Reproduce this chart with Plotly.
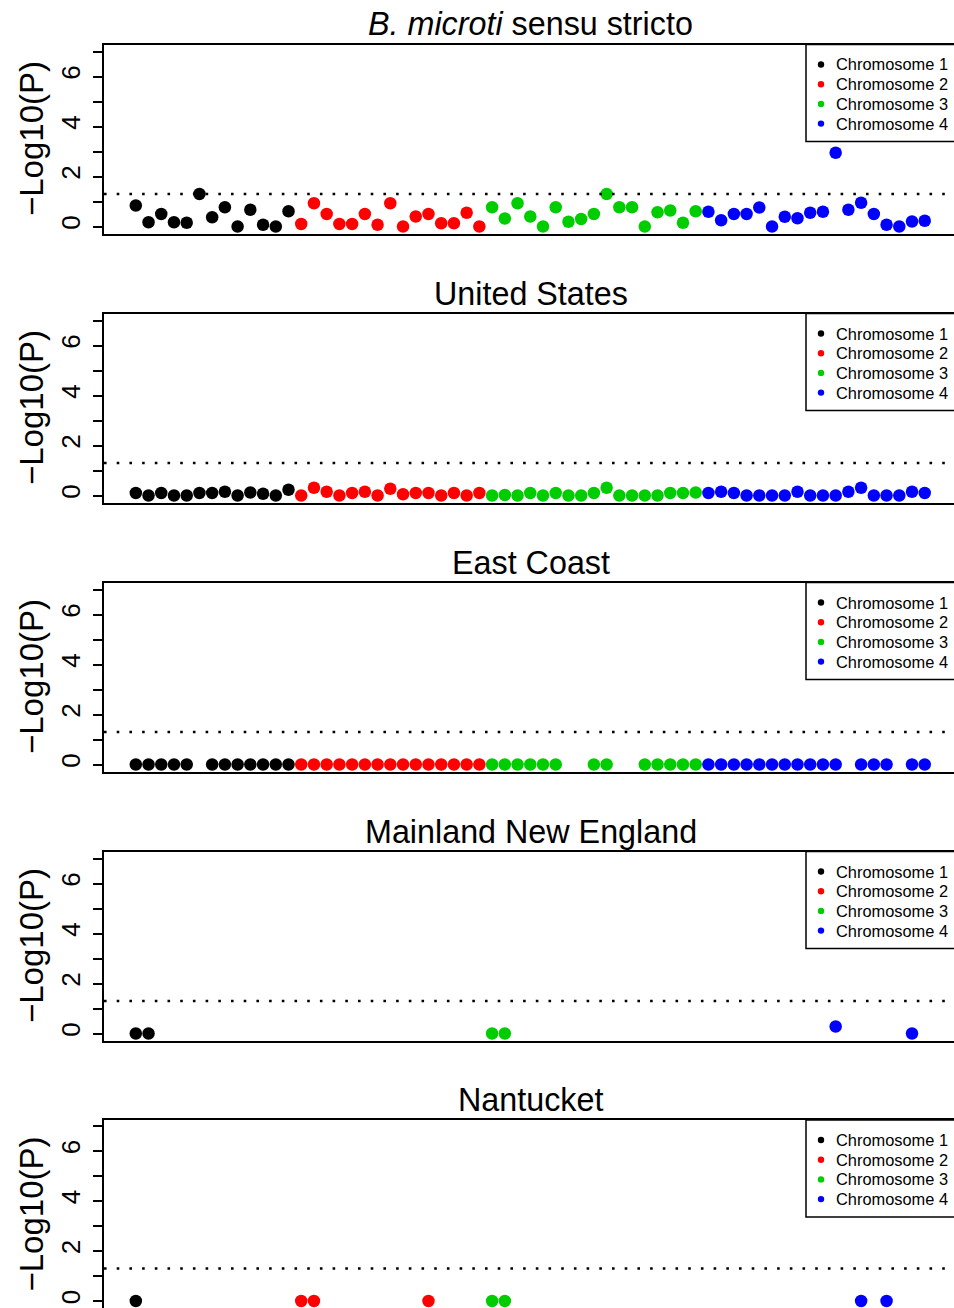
import plotly.graph_objects as go

FONT = "Liberation Sans, Arial, Helvetica, sans-serif"

chrom_names = ["Chromosome 1", "Chromosome 2", "Chromosome 3", "Chromosome 4"]
chrom_colors = ["#000000", "#FF0000", "#00CD00", "#0000FF"]
panel_titles = ["<i>B. microti</i> sensu stricto", "United States", "East Coast",
                "Mainland New England", "Nantucket"]
y_title = "\u2212Log10(P)"
y_tickvals = [0, 1, 2, 3, 4, 5, 6, 7]
y_ticktext = ["0", "", "2", "", "4", "", "6", ""]
threshold = 1.301  # -log10(0.05)

# SNP positions (index along genome) by chromosome
chr1_pos = [1, 2, 3, 4, 5, 6, 7, 8, 9, 10, 11, 12, 13]
chr2_pos = [14, 15, 16, 17, 18, 19, 20, 21, 22, 23, 24, 25, 26, 27, 28]
chr3_pos = [29, 30, 31, 32, 33, 34, 35, 36, 37, 38, 39, 40, 41, 42, 43, 44, 45]
chr4_pos = [46, 47, 48, 49, 50, 51, 52, 53, 54, 55, 56, 57, 58, 59, 60, 61, 62, 63]

# Panel 1: B. microti sensu stricto
bmss_chr1 = [0.84, 0.17, 0.50, 0.17, 0.15, 1.30, 0.37, 0.77, 0.00, 0.67, 0.07, 0.00, 0.61]
bmss_chr2 = [0.10, 0.93, 0.50, 0.10, 0.10, 0.50, 0.07, 0.93, 0.00, 0.40, 0.50, 0.13, 0.13, 0.55, 0.00]
bmss_chr3 = [0.77, 0.32, 0.93, 0.40, 0.00, 0.77, 0.19, 0.30, 0.50, 1.30, 0.77, 0.77, 0.00, 0.57,
             0.64, 0.15, 0.61]
bmss_chr4 = [0.59, 0.25, 0.50, 0.50, 0.76, 0.00, 0.39, 0.33, 0.55, 0.59, 2.95, 0.67, 0.95, 0.50,
             0.07, 0.00, 0.20, 0.23]

# Panel 2: United States
us_chr1 = [0.10, 0.00, 0.10, 0.00, 0.00, 0.10, 0.10, 0.15, 0.00, 0.12, 0.07, 0.00, 0.23]
us_chr2 = [0.00, 0.31, 0.15, 0.00, 0.10, 0.15, 0.00, 0.27, 0.05, 0.10, 0.10, 0.00, 0.10, 0.00, 0.10]
us_chr3 = [0.00, 0.02, 0.00, 0.10, 0.00, 0.10, 0.00, 0.00, 0.10, 0.31, 0.00, 0.00, 0.00, 0.00,
           0.10, 0.10, 0.12]
us_chr4 = [0.10, 0.15, 0.10, 0.00, 0.00, 0.00, 0.00, 0.15, 0.00, 0.00, 0.00, 0.15, 0.31, 0.00,
           0.00, 0.00, 0.15, 0.10]

# Panel 3: East Coast
ec_chr1_pos = [1, 2, 3, 4, 5, 7, 8, 9, 10, 11, 12, 13]
ec_chr1 = [0, 0, 0, 0, 0, 0, 0, 0, 0, 0, 0, 0]
ec_chr2_pos = [14, 15, 16, 17, 18, 19, 20, 21, 22, 23, 24, 25, 26, 27, 28]
ec_chr2 = [0, 0, 0, 0, 0, 0, 0, 0, 0, 0, 0, 0, 0, 0, 0]
ec_chr3_pos = [29, 30, 31, 32, 33, 34, 37, 38, 41, 42, 43, 44, 45]
ec_chr3 = [0, 0, 0, 0, 0, 0, 0, 0, 0, 0, 0, 0, 0]
ec_chr4_pos = [46, 47, 48, 49, 50, 51, 52, 53, 54, 55, 56, 58, 59, 60, 62, 63]
ec_chr4 = [0, 0, 0, 0, 0, 0, 0, 0, 0, 0, 0, 0, 0, 0, 0, 0]

# Panel 4: Mainland New England
mne_chr1_pos = [1, 2]
mne_chr1 = [0, 0]
mne_chr2_pos = []
mne_chr2 = []
mne_chr3_pos = [29, 30]
mne_chr3 = [0, 0]
mne_chr4_pos = [56, 62]
mne_chr4 = [0.28, 0]

# Panel 5: Nantucket
nan_chr1_pos = [1]
nan_chr1 = [0]
nan_chr2_pos = [14, 15, 24]
nan_chr2 = [0, 0, 0]
nan_chr3_pos = [29, 30]
nan_chr3 = [0, 0]
nan_chr4_pos = [58, 60]
nan_chr4 = [0, 0]

panels = [
    [(chr1_pos, bmss_chr1), (chr2_pos, bmss_chr2), (chr3_pos, bmss_chr3), (chr4_pos, bmss_chr4)],
    [(chr1_pos, us_chr1), (chr2_pos, us_chr2), (chr3_pos, us_chr3), (chr4_pos, us_chr4)],
    [(ec_chr1_pos, ec_chr1), (ec_chr2_pos, ec_chr2), (ec_chr3_pos, ec_chr3), (ec_chr4_pos, ec_chr4)],
    [(mne_chr1_pos, mne_chr1), (mne_chr2_pos, mne_chr2), (mne_chr3_pos, mne_chr3),
     (mne_chr4_pos, mne_chr4)],
    [(nan_chr1_pos, nan_chr1), (nan_chr2_pos, nan_chr2), (nan_chr3_pos, nan_chr3),
     (nan_chr4_pos, nan_chr4)],
]

# ---- layout geometry (pixels) ----
W, H = 954, 1308
PLOT_L, PLOT_R = 104, 954
panel_tops = [44.5, 313.5, 582.5, 851.5, 1120]
panel_h = 189


def px_x(px):
    return (px - PLOT_L) / (PLOT_R - PLOT_L)


def px_y(py):
    return 1 - py / H


fig = go.Figure()
shapes = []
annotations = []
layout_axes = {}

for k, panel in enumerate(panels, start=1):
    xa = "x" if k == 1 else f"x{k}"
    ya = "y" if k == 1 else f"y{k}"
    for (pos, vals), name, col in zip(panel, chrom_names, chrom_colors):
        fig.add_trace(go.Scatter(
            x=pos, y=vals, mode="markers", name=name, showlegend=False,
            marker=dict(color=col, size=12.5, line=dict(width=0)),
            xaxis=xa, yaxis=ya, hoverinfo="x+y+name",
        ))
    top = panel_tops[k - 1]
    bot = min(top + panel_h, H)
    layout_axes["xaxis" if k == 1 else f"xaxis{k}"] = dict(
        domain=[0, 1], anchor=ya, range=[-1.5, 65.3],
        showline=True, mirror=True, linecolor="black", linewidth=1.5,
        showgrid=False, zeroline=False, showticklabels=False, ticks="",
    )
    layout_axes["yaxis" if k == 1 else f"yaxis{k}"] = dict(
        domain=[px_y(bot), px_y(top)], anchor=xa,
        range=[-0.28, 7.28 * 1.0 + (bot - top - panel_h) / panel_h * 7.56],
        showline=True, mirror=False, linecolor="black", linewidth=1.5,
        showgrid=False, zeroline=False,
        ticks="outside", ticklen=9, tickwidth=1.5, tickcolor="black",
        tickvals=y_tickvals, ticktext=y_ticktext, tickangle=-90,
        tickfont=dict(size=26, color="black", family=FONT),
        ticklabelstandoff=3,
    )
    # significance threshold
    shapes.append(dict(
        type="line", xref=f"{xa} domain", yref=ya, x0=0, x1=1, y0=threshold, y1=threshold,
        line=dict(color="black", width=2.6, dash="2.6px,10.1px"), layer="above",
    ))
    # title
    annotations.append(dict(
        text=panel_titles[k - 1], xref="paper", yref="paper", x=px_x(530.5), y=px_y(top - 20),
        xanchor="center", yanchor="middle", showarrow=False,
        font=dict(size=32.3, color="black", family=FONT),
    ))
    # y axis title
    annotations.append(dict(
        text=y_title, xref="paper", yref="paper", x=px_x(31), y=px_y(top + panel_h / 2),
        xanchor="center", yanchor="middle", showarrow=False, textangle=-90,
        font=dict(size=33, color="black", family=FONT),
    ))
    # legend box
    shapes.append(dict(
        type="rect", xref="paper", yref="paper",
        x0=px_x(806), x1=px_x(975), y0=px_y(top + 97), y1=px_y(top),
        line=dict(color="black", width=1.5), fillcolor="white", layer="above",
    ))
    for r, (name, col) in enumerate(zip(chrom_names, chrom_colors)):
        cy = top + 20 + r * 19.7
        shapes.append(dict(
            type="circle", xref="paper", yref="paper",
            x0=px_x(821 - 3.2), x1=px_x(821 + 3.2), y0=px_y(cy + 3.2), y1=px_y(cy - 3.2),
            line=dict(width=0), fillcolor=col, layer="above",
        ))
        annotations.append(dict(
            text=name, xref="paper", yref="paper", x=px_x(834), y=px_y(cy),
            xanchor="left", yanchor="middle", showarrow=False,
            font=dict(size=16.4, color="black", family=FONT),
        ))

fig.update_layout(
    width=W, height=H,
    margin=dict(l=PLOT_L, r=W - PLOT_R, t=0, b=0, pad=0),
    paper_bgcolor="white", plot_bgcolor="white",
    font=dict(family=FONT, color="black"),
    shapes=shapes, annotations=annotations, showlegend=False,
    **layout_axes,
)

fig.write_html("out.html")
